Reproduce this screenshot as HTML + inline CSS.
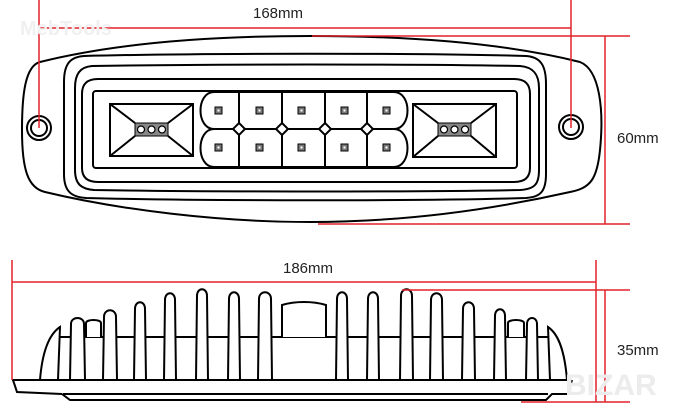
<!DOCTYPE html>
<html><head><meta charset="utf-8"><style>
html,body{margin:0;padding:0;background:#fff;}
svg{display:block}
text{font-family:"Liberation Sans","DejaVu Sans",sans-serif;font-size:15px;fill:#222}
</style></head><body>
<svg width="673" height="412" viewBox="0 0 673 412" xmlns="http://www.w3.org/2000/svg">
<g fill="none" stroke="#000" stroke-width="2">
<path d="M40 62 C120 42 220 36 310 36 C400 36 500 42 580 62 C600 70 604 110 600 150 C597 180 590 188 570 192 C490 210 400 222 310 222 C220 222 120 210 45 192 C28 188 22 170 22 130 C22 95 25 66 40 62 Z"/>
<circle cx="39" cy="128" r="12"/><circle cx="39" cy="128" r="8"/>
<circle cx="571" cy="127" r="12"/><circle cx="571" cy="127" r="8"/>
<path d="M84 56 C200 53 420 53 526 56 C541 57 546 66 546 84 L546 174 C546 192 540 197 526 198 C420 201 200 201 86 198 C70 197 64 190 64 174 L64 82 C64 64 70 57 84 56 Z"/>
<path d="M92 66 C200 64 420 64 520 66 C533 67 539 74 539 88 L539 170 C539 184 535 189 520 190 C420 192 200 192 94 190 C81 189 75 184 75 170 L75 88 C75 74 80 67 92 66 Z"/>
<path d="M98 79 L514 79 C525 79 530 84 530 94 L530 168 C530 177 525 182 514 182 L98 182 C87 182 82 177 82 168 L82 94 C82 84 87 79 98 79 Z"/>
<rect x="93" y="91" width="424" height="77" rx="3"/>
<rect x="110" y="104" width="83" height="52"/>
<path d="M110 104 L135 123 M193 104 L168 123 M110 156 L135 136 M193 156 L168 136"/>
<rect x="413" y="104" width="83" height="53"/>
<path d="M413 104 L438 123 M496 104 L471 123 M413 157 L438 136 M496 157 L471 136"/>
<path d="M214 92 L394 92 C412 92 412 129 394 129 C412 129 412 167 394 167 L214 167 C196 167 196 129 214 129 C196 129 196 92 214 92 Z"/>
<path d="M214 129 L394 129 M239 92 L239 167 M282 92 L282 167 M325 92 L325 167 M367 92 L367 167"/>
</g>
<g fill="#888" stroke="#000" stroke-width="1">
<rect x="135" y="123" width="33" height="13"/>
<rect x="438" y="123" width="33" height="13"/>
</g>
<g fill="#fff" stroke="#000" stroke-width="1.2">
<circle cx="141" cy="129.5" r="3.5"/><circle cx="151.5" cy="129.5" r="3.5"/><circle cx="162" cy="129.5" r="3.5"/>
<circle cx="444" cy="129.5" r="3.5"/><circle cx="454.5" cy="129.5" r="3.5"/><circle cx="465" cy="129.5" r="3.5"/>
<path stroke-width="2" d="M239 123 L245 129 L239 135 L233 129Z M282 123 L288 129 L282 135 L276 129Z M325 123 L331 129 L325 135 L319 129Z M367 123 L373 129 L367 135 L361 129Z"/>
</g>
<g fill="#777" stroke="#000" stroke-width="1">
<rect x="215" y="107" width="7" height="7"/><rect x="256" y="107" width="7" height="7"/><rect x="298" y="107" width="7" height="7"/><rect x="341" y="107" width="7" height="7"/><rect x="383" y="107" width="7" height="7"/>
<rect x="215" y="144" width="7" height="7"/><rect x="256" y="144" width="7" height="7"/><rect x="298" y="144" width="7" height="7"/><rect x="341" y="144" width="7" height="7"/><rect x="383" y="144" width="7" height="7"/>
</g>
<g fill="#fff" stroke="none">
<rect x="217.5" y="109.5" width="2" height="2"/><rect x="258.5" y="109.5" width="2" height="2"/><rect x="300.5" y="109.5" width="2" height="2"/><rect x="343.5" y="109.5" width="2" height="2"/><rect x="385.5" y="109.5" width="2" height="2"/>
<rect x="217.5" y="146.5" width="2" height="2"/><rect x="258.5" y="146.5" width="2" height="2"/><rect x="300.5" y="146.5" width="2" height="2"/><rect x="343.5" y="146.5" width="2" height="2"/><rect x="385.5" y="146.5" width="2" height="2"/>
</g>
<g stroke="#e0242a" stroke-width="1.5" fill="none">
<path d="M39 0 L39 128 M571 0 L571 128 M39 28 L571 28 M312 36 L630 36 M318 224 L630 224 M605 36 L605 224"/>
</g>
<text x="253" y="18">168mm</text>
<text x="617" y="143">60mm</text>
<text x="20" y="35" style="font-size:20px;fill:#f0f0f0;font-weight:bold">MebTools</text>
<g fill="none" stroke="#000" stroke-width="2">
<path d="M12 380 L568 380 M13 380 L17 392 L62 394 M62 394 L70 400 L546 400 L552 394 L568 394 L572 380"/>
<path d="M63 394 L548 394"/>
<path d="M40 380 C42 355 48 335 60 327 L58 380"/>
<path d="M567 380 C565 355 560 335 548 327 L550 380"/>
<path d="M60 337 L548 337"/>
</g>
<g fill="#fff" stroke="#000" stroke-width="2">
<path d="M70 380 L71 324 C71 316 84 316 84 324 L85 380Z"/>
<path d="M86 337 L86 323 C86 319 101 319 101 323 L101 337"/>
<path d="M103 380 L104 317 C104 308 116 308 116 317 L117 380Z"/>
<path d="M134 380 L135 309 C135 300 145 300 145 309 L146 380Z"/>
<path d="M164 380 L165 300 C165 291 175 291 175 300 L176 380Z"/>
<path d="M196 380 L197 296 C197 287 207 287 207 296 L208 380Z"/>
<path d="M228 380 L229 299 C229 290 239 290 239 299 L240 380Z"/>
<path d="M258 380 L259 299 C259 290 271 290 271 299 L272 380Z"/>
<path d="M282 337 L282 305 C295 301 313 301 326 305 L326 337"/>
<path d="M336 380 L337 299 C337 290 347 290 347 299 L348 380Z"/>
<path d="M367 380 L368 299 C368 290 378 290 378 299 L379 380Z"/>
<path d="M400 380 L401 296 C401 287 412 287 412 296 L413 380Z"/>
<path d="M430 380 L431 300 C431 291 442 291 442 300 L443 380Z"/>
<path d="M462 380 L463 309 C463 300 474 300 474 309 L475 380Z"/>
<path d="M494 380 L495 316 C495 307 505 307 505 316 L506 380Z"/>
<path d="M508 337 L508 323 C508 319 524 319 524 323 L524 337"/>
<path d="M526 380 L527 324 C527 316 537 316 537 324 L538 380Z"/>
</g>
<g stroke="#e0242a" stroke-width="1.5" fill="none">
<path d="M12 260 L12 380 M12 282 L596 282 M596 260 L596 402 M402 290 L630 290 M521 402 L630 402 M605 290 L605 402"/>
</g>
<text x="283" y="273">186mm</text>
<text x="617" y="355">35mm</text>
<text x="565" y="395" style="font-size:30px;fill:#ececec;font-weight:bold">BIZAR</text>
</svg>
</body></html>
